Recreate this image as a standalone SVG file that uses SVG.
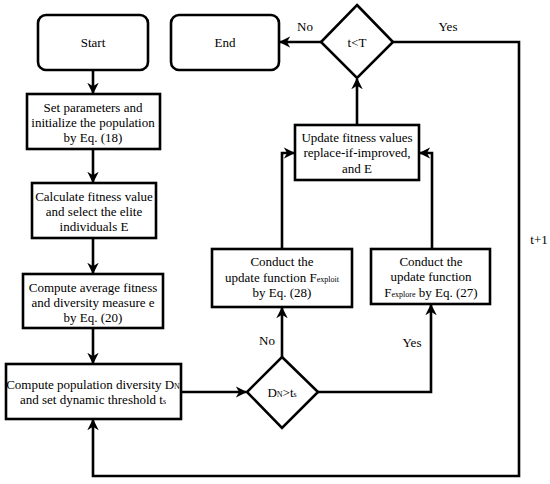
<svg xmlns="http://www.w3.org/2000/svg" width="550" height="484" viewBox="0 0 550 484">
<defs>
<marker id="arr" viewBox="0 0 10 10" refX="9" refY="5" markerWidth="4.4" markerHeight="4.4" orient="auto" markerUnits="strokeWidth">
<path d="M0,0 L10,5 L0,10 L3,5 z" fill="#000"/>
</marker>
</defs>
<style>
.n{fill:#fff;stroke:#000;stroke-width:2.6}
.c{fill:none;stroke:#000;stroke-width:2.6}
text{font-family:"Liberation Serif","Times New Roman",serif;font-size:13px;fill:#000;text-anchor:middle}
.s{font-size:8px}
</style>
<rect width="550" height="484" fill="#fff"/>
<g id="connectors">
<path class="c" d="M93,70 V93" marker-end="url(#arr)"/>
<path class="c" d="M93,149 V182" marker-end="url(#arr)"/>
<path class="c" d="M93,238 V273" marker-end="url(#arr)"/>
<path class="c" d="M93,328 V363" marker-end="url(#arr)"/>
<path class="c" d="M181,392 H246" marker-end="url(#arr)"/>
<path class="c" d="M282,357 V308" marker-end="url(#arr)"/>
<path class="c" d="M318,392 H431 V305" marker-end="url(#arr)"/>
<path class="c" d="M282,249 V153 H294" marker-end="url(#arr)"/>
<path class="c" d="M432,249 V153 H420" marker-end="url(#arr)"/>
<path class="c" d="M357,125 V79" marker-end="url(#arr)"/>
<path class="c" d="M321,42 H280" marker-end="url(#arr)"/>
<path class="c" d="M393,42 H519 V476 H93 V420" marker-end="url(#arr)"/>
<text x="305" y="31">No</text>
<text x="448" y="31">Yes</text>
<text x="267" y="345">No</text>
<text x="412" y="347">Yes</text>
<text x="539" y="244">t+1</text>
</g>
<g id="start">
<rect class="n" x="38" y="15" width="110" height="55" rx="8"/>
<text x="93" y="47">Start</text>
</g>
<g id="end">
<rect class="n" x="171" y="15" width="108" height="55" rx="8"/>
<text x="225" y="47">End</text>
</g>
<g id="init">
<rect class="n" x="27" y="94" width="133" height="55"/>
<text x="93" y="112">Set parameters and</text>
<text x="93" y="127">initialize the population</text>
<text x="93" y="142">by Eq. (18)</text>
</g>
<g id="fitness">
<rect class="n" x="32" y="183" width="124" height="55"/>
<text x="94" y="201">Calculate fitness value</text>
<text x="94" y="216">and select the  elite</text>
<text x="94" y="231">individuals E</text>
</g>
<g id="average">
<rect class="n" x="23" y="274" width="140" height="54"/>
<text x="93" y="292">Compute average fitness</text>
<text x="93" y="307">and diversity measure e</text>
<text x="93" y="322">by Eq. (20)</text>
</g>
<g id="diversity">
<rect class="n" x="6" y="364" width="175" height="55"/>
<text x="93" y="389">Compute population diversity D<tspan class="s">N</tspan></text>
<text x="93" y="404">and set dynamic threshold t<tspan class="s">s</tspan></text>
</g>
<g id="decision-d">
<polygon class="n" points="282,357 318,392 282,428 247,392"/>
<text x="282" y="397">D<tspan class="s">N</tspan>&gt;t<tspan class="s">s</tspan></text>
</g>
<g id="exploit">
<rect class="n" x="212" y="249" width="140" height="58"/>
<text x="282" y="266">Conduct the</text>
<text x="282" y="282">update function F<tspan class="s">exploit</tspan></text>
<text x="282" y="297">by Eq. (28)</text>
</g>
<g id="explore">
<rect class="n" x="371" y="249" width="119" height="55"/>
<text x="431" y="266">Conduct the</text>
<text x="431" y="281">update  function</text>
<text x="431" y="297">F<tspan class="s">explore</tspan> by Eq. (27)</text>
</g>
<g id="update">
<rect class="n" x="295" y="125" width="124" height="55"/>
<text x="357" y="142">Update fitness values</text>
<text x="357" y="157">replace-if-improved,</text>
<text x="357" y="173">and E</text>
</g>
<g id="decision-t">
<polygon class="n" points="357,5 393,42 357,78 321,42"/>
<text x="357" y="47">t&lt;T</text>
</g>
</svg>
